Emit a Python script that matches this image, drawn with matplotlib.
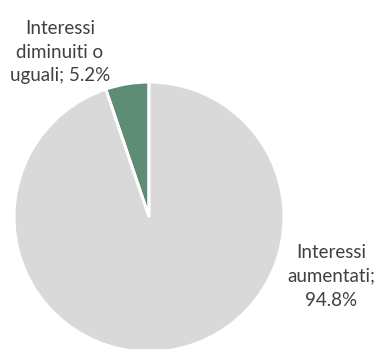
import matplotlib.pyplot as plt

labels = ["Interessi\ndiminuiti o\nuguali", "Interessi\naumentati"]
shares = [5.2, 94.8]
colors = ["#5E8C74", "#D9D9D9"]
# the right label wraps the value onto its own line
separators = ["; ", ";\n"]

plt.rcParams["font.family"] = ["Lato", "DejaVu Sans"]

fig = plt.figure(figsize=(3.81, 3.49), dpi=100)
ax = fig.add_axes([0, 0, 1, 1])

ax.pie(
    shares,
    colors=colors,
    startangle=90,
    counterclock=True,
    center=(149, 132),
    radius=135,
    wedgeprops=dict(edgecolor="white", linewidth=2.2),
)
ax.set_xlim(0, 381)
ax.set_ylim(0, 349)
ax.set_aspect("equal")
ax.axis("off")

label_pos = [(60, 297), (331, 73)]
for (x, y), lab, sep, val in zip(label_pos, labels, separators, shares):
    ax.text(x, y, f"{lab}{sep}{val:.1f}%", ha="center", va="center",
            multialignment="center", fontsize=13.5, color="#404040",
            linespacing=1.5)

fig.savefig("out.png", dpi=100)
